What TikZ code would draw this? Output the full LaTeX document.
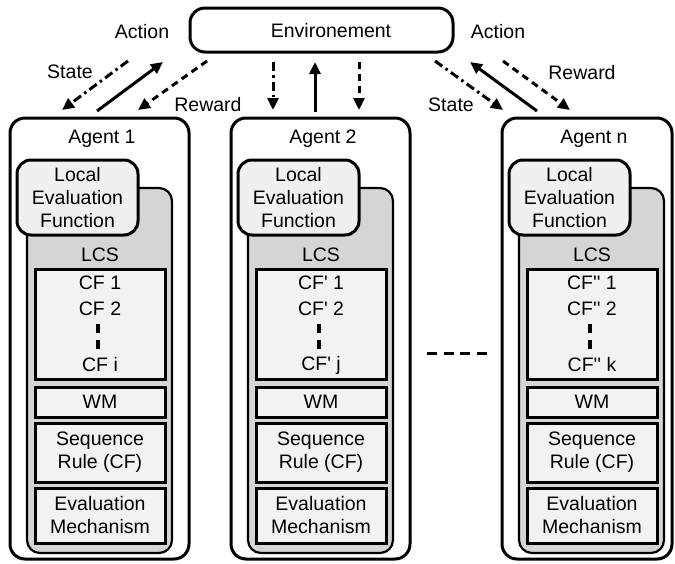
\documentclass[tikz,border=0pt]{standalone}
\usepackage{fontspec}
\setmainfont{Liberation Sans}
\usetikzlibrary{arrows.meta}
\newcommand{\labfont}{\fontsize{19.5}{23}\selectfont}
\tikzset{
  every node/.style={font=\labfont, inner sep=0pt},
  agentbox/.style={draw, line width=3pt, rounded corners=15pt, fill=white},
  envbox/.style={draw, line width=3pt, rounded corners=15pt, fill=white},
  lefbox/.style={draw, line width=3pt, rounded corners=14pt, fill=gray!12, align=center},
  lcsbox/.style={draw, line width=2.2pt, rounded corners=13pt, fill=gray!33},
  cfbox/.style={draw, line width=3pt, fill=gray!10, align=center},
  flow/.style={line width=3pt, -{Triangle[length=12pt,width=11pt]}},
  dashdotline/.style={dash pattern=on 9pt off 4pt on 2.5pt off 4pt},
  dashline/.style={dash pattern=on 7pt off 5pt},
  vdots/.style={line width=3.5pt, dash pattern=on 9pt off 7pt},
}
% #1 name, #2 centre x, #3 outer right offset, #4 title, #5 CF prefix, #6 last index
\newcommand{\agentunit}[6]{%
  \node[agentbox, minimum width={90pt+#3pt}, minimum height=441pt] (#1-out) at ({#2+(#3-90)/2}, 338.5) {};
  \node (#1-title) at (#2+2, 139) {#4};
  \node[lcsbox, minimum width=145pt, minimum height=365pt] (#1-lcs) at (#2-0.5, 370.5) {};
  \node[lefbox, minimum width=121pt, minimum height=75pt] (#1-lef) at (#2-22.5, 197.5) {Local\\Evaluation\\Function};
  \node (#1-lcslab) at (#2, 255) {LCS};
  \node[cfbox, minimum width=130pt, minimum height=110pt] (#1-cf) at (#2, 324) {};
  \node (#1-cf1) at (#2, 283) {#5 1};
  \node (#1-cf2) at (#2, 309) {#5 2};
  \node (#1-cfn) at (#2, 365) {#5 #6};
  \coordinate (#1-da) at (#2-2, 324);
  \coordinate (#1-db) at (#2-2, 349);
  \draw[vdots] (#1-da) -- (#1-db);
  \node[cfbox, minimum width=130pt, minimum height=30pt] (#1-wm) at (#2, 402) {WM};
  \node[cfbox, minimum width=130pt, minimum height=59pt] (#1-seq) at (#2, 452.5) {Sequence\\Rule (CF)};
  \node[cfbox, minimum width=130pt, minimum height=55pt] (#1-eval) at (#2, 515.5) {Evaluation\\Mechanism};
}
\begin{document}
\begin{tikzpicture}[x=1pt, y=-1pt]
\useasboundingbox (0,0) rectangle (675,563);

% environment
\node[envbox, minimum width=263pt, minimum height=44pt] (env) at (321.5, 30) {};
\node (envtext) at (331, 31) {Environement};

% agents
\agentunit{a1}{100}{89}{Agent 1}{CF}{i}
\agentunit{a2}{321}{89}{Agent 2}{CF\textquotesingle}{j}
\agentunit{an}{592}{80}{Agent n}{CF\textquotesingle\textquotesingle}{k}

% ellipsis between agents
\coordinate (ell-a) at (427, 353);
\coordinate (ell-b) at (487, 353);
\draw[line width=3pt, dash pattern=on 10pt off 6.67pt] (ell-a) -- (ell-b);

% left arrows
\coordinate (s1a) at (128, 61); \coordinate (s1b) at (62, 110);
\coordinate (c1a) at (97, 111); \coordinate (c1b) at (163, 62);
\coordinate (r1a) at (207, 61); \coordinate (r1b) at (138, 110);
\draw[flow, dashdotline] (s1a) -- (s1b);
\draw[flow] (c1a) -- (c1b);
\draw[flow, dashline] (r1a) -- (r1b);
\node (act1) at (142, 32) {Action};
\node (st1) at (70, 72) {State};
\node (rw1) at (208, 105) {Reward};

% middle arrows
\coordinate (s2a) at (273, 62); \coordinate (s2b) at (273, 110);
\coordinate (c2a) at (315, 112); \coordinate (c2b) at (315, 62);
\coordinate (r2a) at (359, 62); \coordinate (r2b) at (359, 110);
\draw[flow, dashdotline] (s2a) -- (s2b);
\draw[flow] (c2a) -- (c2b);
\draw[flow, dashline] (r2a) -- (r2b);

% right arrows
\coordinate (sna) at (435, 61); \coordinate (snb) at (503, 110);
\coordinate (cna) at (537, 111); \coordinate (cnb) at (470, 62);
\coordinate (rna) at (503, 61); \coordinate (rnb) at (570, 110);
\draw[flow, dashdotline] (sna) -- (snb);
\draw[flow] (cna) -- (cnb);
\draw[flow, dashline] (rna) -- (rnb);
\node (actn) at (498, 32) {Action};
\node (rwn) at (582, 73) {Reward};
\node (stn) at (451, 105) {State};
\end{tikzpicture}
\end{document}
